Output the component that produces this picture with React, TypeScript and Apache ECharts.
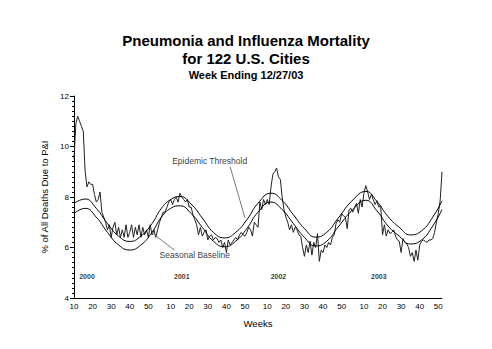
import React, { useEffect, useRef } from "react";
import * as echarts from "echarts";

// Surveillance years on the x axis; the first season starts at week 10.
const years = [2000, 2001, 2002, 2003];
const firstWeek = 10;
const weeksPerYear = 52;

// Weekly % of all deaths due to pneumonia & influenza (122 cities)
const obs2000 = [
  9.5, 10.9, 11.2, 11.0, 10.8, 10.6, 9.0, 8.4, 8.6, 8.5,
  8.5, 8.1, 7.8, 7.9, 8.2, 7.4, 7.2, 7.0, 6.7, 6.9,
  6.4, 6.8, 7.0, 6.5, 6.8, 6.4, 6.7, 6.4, 6.9, 6.4,
  6.6, 6.9, 6.4, 6.8, 6.5, 6.9, 6.4, 6.8, 6.5, 6.7,
  6.4, 6.9, 6.5,
];
const obs2001 = [
  6.7, 6.4, 6.7, 7.0, 7.2, 7.4, 7.4, 7.6, 7.8,
  7.9, 7.7, 7.9, 8.0, 7.8, 8.15, 8.0, 7.9, 7.8, 7.9,
  7.6, 7.6, 7.3, 7.1, 6.9, 6.5, 6.8, 6.45, 6.6, 6.7,
  6.3, 6.45, 6.5, 6.3, 6.4, 6.35, 6.2, 6.3, 6.0, 6.2,
  5.8, 6.3, 6.1, 6.2, 6.3, 6.4, 6.3, 6.5, 6.6, 6.5,
  6.45, 6.6, 6.8,
];
const obs2002 = [
  6.7, 6.45, 7.0, 6.9, 6.8, 7.8, 7.5, 7.9, 7.7,
  7.9, 7.7, 8.4, 8.9, 9.0, 9.15, 8.8, 8.7, 8.0, 7.5,
  7.2, 7.0, 6.7, 6.9, 6.6, 6.8, 6.7, 6.5, 6.45, 6.0,
  5.65, 6.1, 5.8, 6.25, 5.7, 6.2, 6.0, 6.55, 5.45, 5.9,
  5.8, 6.1, 6.0, 6.2, 6.1, 6.4, 6.5, 6.95, 7.1, 7.0,
  7.35, 7.25, 7.2,
];
const obs2003 = [
  6.75, 7.5, 7.55, 7.4, 7.6, 7.75, 7.35, 7.9, 7.6,
  8.15, 8.45, 8.2, 7.9, 8.1, 7.9, 7.7, 7.85, 7.6, 7.65,
  6.5, 6.9, 6.45, 6.7, 6.55, 6.6, 6.7, 6.45, 6.3, 6.25,
  5.8, 6.35, 6.2, 6.15, 6.0, 5.65, 5.8, 5.45, 5.9, 5.5,
  6.1, 6.25, 6.3, 6.25, 6.2, 6.3, 6.3, 6.35, 6.6, 7.0,
  7.35, 7.85, 9.0,
];

// Seasonal baseline (smoothed model), sampled through the seasons
const baseline: [string, number][] = [
  ["2000-10", 7.35], ["2000-16", 7.55], ["2000-22", 7.2], ["2000-28", 6.6],
  ["2000-34", 6.1], ["2000-40", 5.9], ["2000-46", 6.1], ["2000-52", 6.6],
  ["2001-5", 7.2], ["2001-10", 7.55], ["2001-15", 7.65], ["2001-21", 7.35],
  ["2001-27", 6.8], ["2001-33", 6.25], ["2001-39", 6.03], ["2001-45", 6.25],
  ["2001-51", 6.75], ["2002-5", 7.4], ["2002-12", 7.8], ["2002-18", 7.5],
  ["2002-24", 6.95], ["2002-30", 6.4], ["2002-36", 6.06], ["2002-42", 6.25],
  ["2002-48", 6.8], ["2003-4", 7.5], ["2003-11", 7.87], ["2003-17", 7.45],
  ["2003-23", 6.85], ["2003-29", 6.45], ["2003-35", 6.14], ["2003-41", 6.3],
  ["2003-47", 6.85], ["2003-52", 7.5],
];

// Epidemic threshold above the baseline
const threshold: [string, number][] = [
  ["2000-10", 7.75], ["2000-16", 7.92], ["2000-22", 7.55], ["2000-28", 6.95],
  ["2000-34", 6.45], ["2000-40", 6.24], ["2000-46", 6.45], ["2000-52", 6.95],
  ["2001-5", 7.55], ["2001-10", 7.9], ["2001-15", 8.02], ["2001-21", 7.72],
  ["2001-27", 7.17], ["2001-33", 6.6], ["2001-39", 6.38], ["2001-45", 6.6],
  ["2001-51", 7.1], ["2002-5", 7.75], ["2002-12", 8.15], ["2002-18", 7.86],
  ["2002-24", 7.3], ["2002-30", 6.75], ["2002-36", 6.41], ["2002-42", 6.6],
  ["2002-48", 7.15], ["2003-4", 7.88], ["2003-11", 8.22], ["2003-17", 7.82],
  ["2003-23", 7.22], ["2003-29", 6.8], ["2003-35", 6.5], ["2003-41", 6.66],
  ["2003-47", 7.2], ["2003-52", 7.85],
];

// Year captions inside the plot
const yearLabels: [string, number, string][] = [
  ["2000-17", 4.87, "2000"],
  ["2001-16", 4.87, "2001"],
  ["2002-16", 4.87, "2002"],
  ["2003-18", 4.87, "2003"],
];

// Curve captions and their leader lines
const curveLabels: [string, number, string][] = [
  ["2001-31", 9.44, "Epidemic Threshold"],
  ["2001-23", 5.7, "Seasonal Baseline"],
];
const leaders: [[string, number], [string, number]][] = [
  [["2001-42", 9.2], ["2001-50", 7.17]],
  [["2000-52", 6.57], ["2001-12", 5.9]],
];

const yTicks = { min: 4, max: 12, interval: 2 };

const FONT = "'Liberation Sans', Arial, sans-serif";

const plainLabel = {
  show: true,
  position: [0, 0],
  align: "center",
  verticalAlign: "middle",
  formatter: (p: any) => p.name,
  fontFamily: FONT,
  color: "#000",
  textBorderWidth: 0,
};

export default function App() {
  const ref = useRef<HTMLDivElement>(null);

  useEffect(() => {
    if (!ref.current) return;
    const chart = echarts.init(ref.current, undefined, { renderer: "svg" });

    const categories: string[] = [];
    years.forEach((y, k) => {
      const start = k === 0 ? firstWeek : 1;
      for (let w = start; w <= weeksPerYear; w++) categories.push(`${y}-${w}`);
    });
    const observed = [...obs2000, ...obs2001, ...obs2002, ...obs2003];
    const weekOf = (c: string) => Number(c.split("-")[1]);

    chart.setOption({
      animation: false,
      backgroundColor: "#fff",
      textStyle: { fontFamily: FONT },
      title: {
        text: "Pneumonia and Influenza Mortality\nfor 122 U.S. Cities",
        subtext: "Week Ending 12/27/03",
        left: "center",
        top: 26,
        itemGap: 1,
        textStyle: {
          fontFamily: FONT,
          fontSize: 15,
          fontWeight: "bold",
          color: "#000",
          lineHeight: 18,
        },
        subtextStyle: {
          fontFamily: FONT,
          fontSize: 11,
          fontWeight: "bold",
          color: "#000",
          lineHeight: 13,
        },
      },
      grid: { left: 74, top: 96, right: 50, bottom: 51 },
      xAxis: {
        type: "category",
        data: categories,
        boundaryGap: false,
        name: "Weeks",
        nameLocation: "middle",
        nameGap: 20,
        nameTextStyle: { fontFamily: FONT, fontSize: 9.5, color: "#000" },
        axisLine: { lineStyle: { color: "#000", width: 1 } },
        axisTick: { show: false },
        splitLine: { show: false },
        axisLabel: {
          interval: (_i: number, v: string) => weekOf(v) % 10 === 0,
          formatter: (v: string) => String(weekOf(v)),
          fontFamily: FONT,
          fontSize: 8,
          color: "#000",
          margin: 4,
        },
      },
      yAxis: {
        type: "value",
        min: yTicks.min,
        max: yTicks.max,
        interval: yTicks.interval,
        name: "% of All Deaths Due to P&I",
        nameLocation: "middle",
        nameGap: 22,
        nameTextStyle: { fontFamily: FONT, fontSize: 9.5, color: "#000" },
        axisLine: { show: true, lineStyle: { color: "#000", width: 1 } },
        axisTick: { show: true, length: 4, lineStyle: { color: "#000" } },
        minorTick: { show: true, splitNumber: 10, length: 2, lineStyle: { color: "#000" } },
        splitLine: { show: false },
        axisLabel: { fontFamily: FONT, fontSize: 8, color: "#000", margin: 5 },
      },
      series: [
        {
          name: "P&I",
          type: "line",
          data: observed,
          symbol: "none",
          lineStyle: { color: "#222", width: 1 },
          z: 2,
        },
        {
          name: "Seasonal Baseline",
          type: "line",
          data: baseline,
          symbol: "none",
          smooth: 0.5,
          lineStyle: { color: "#000", width: 1 },
          z: 3,
          markLine: {
            silent: true,
            symbol: "none",
            label: { show: false },
            lineStyle: { color: "#7a7a7a", width: 1, type: "solid" },
            data: leaders.map(([a, b]) => [{ coord: a }, { coord: b }]),
          },
        },
        {
          name: "Epidemic Threshold",
          type: "line",
          data: threshold,
          symbol: "none",
          smooth: 0.5,
          lineStyle: { color: "#000", width: 1 },
          z: 3,
        },
        {
          name: "years",
          type: "scatter",
          symbolSize: 0,
          silent: true,
          itemStyle: { color: "#000" },
          data: yearLabels.map(([c, v, t]) => ({ value: [c, v], name: t })),
          label: { ...plainLabel, fontSize: 7, fontWeight: "bold" },
        },
        {
          name: "captions",
          type: "scatter",
          symbolSize: 0,
          silent: true,
          itemStyle: { color: "#000" },
          data: curveLabels.map(([c, v, t]) => ({ value: [c, v], name: t })),
          label: { ...plainLabel, fontSize: 8.5 },
        },
      ],
    });

    return () => chart.dispose();
  }, []);

  return <div ref={ref} style={{ width: 492, height: 349, margin: -8 }} />;
}
